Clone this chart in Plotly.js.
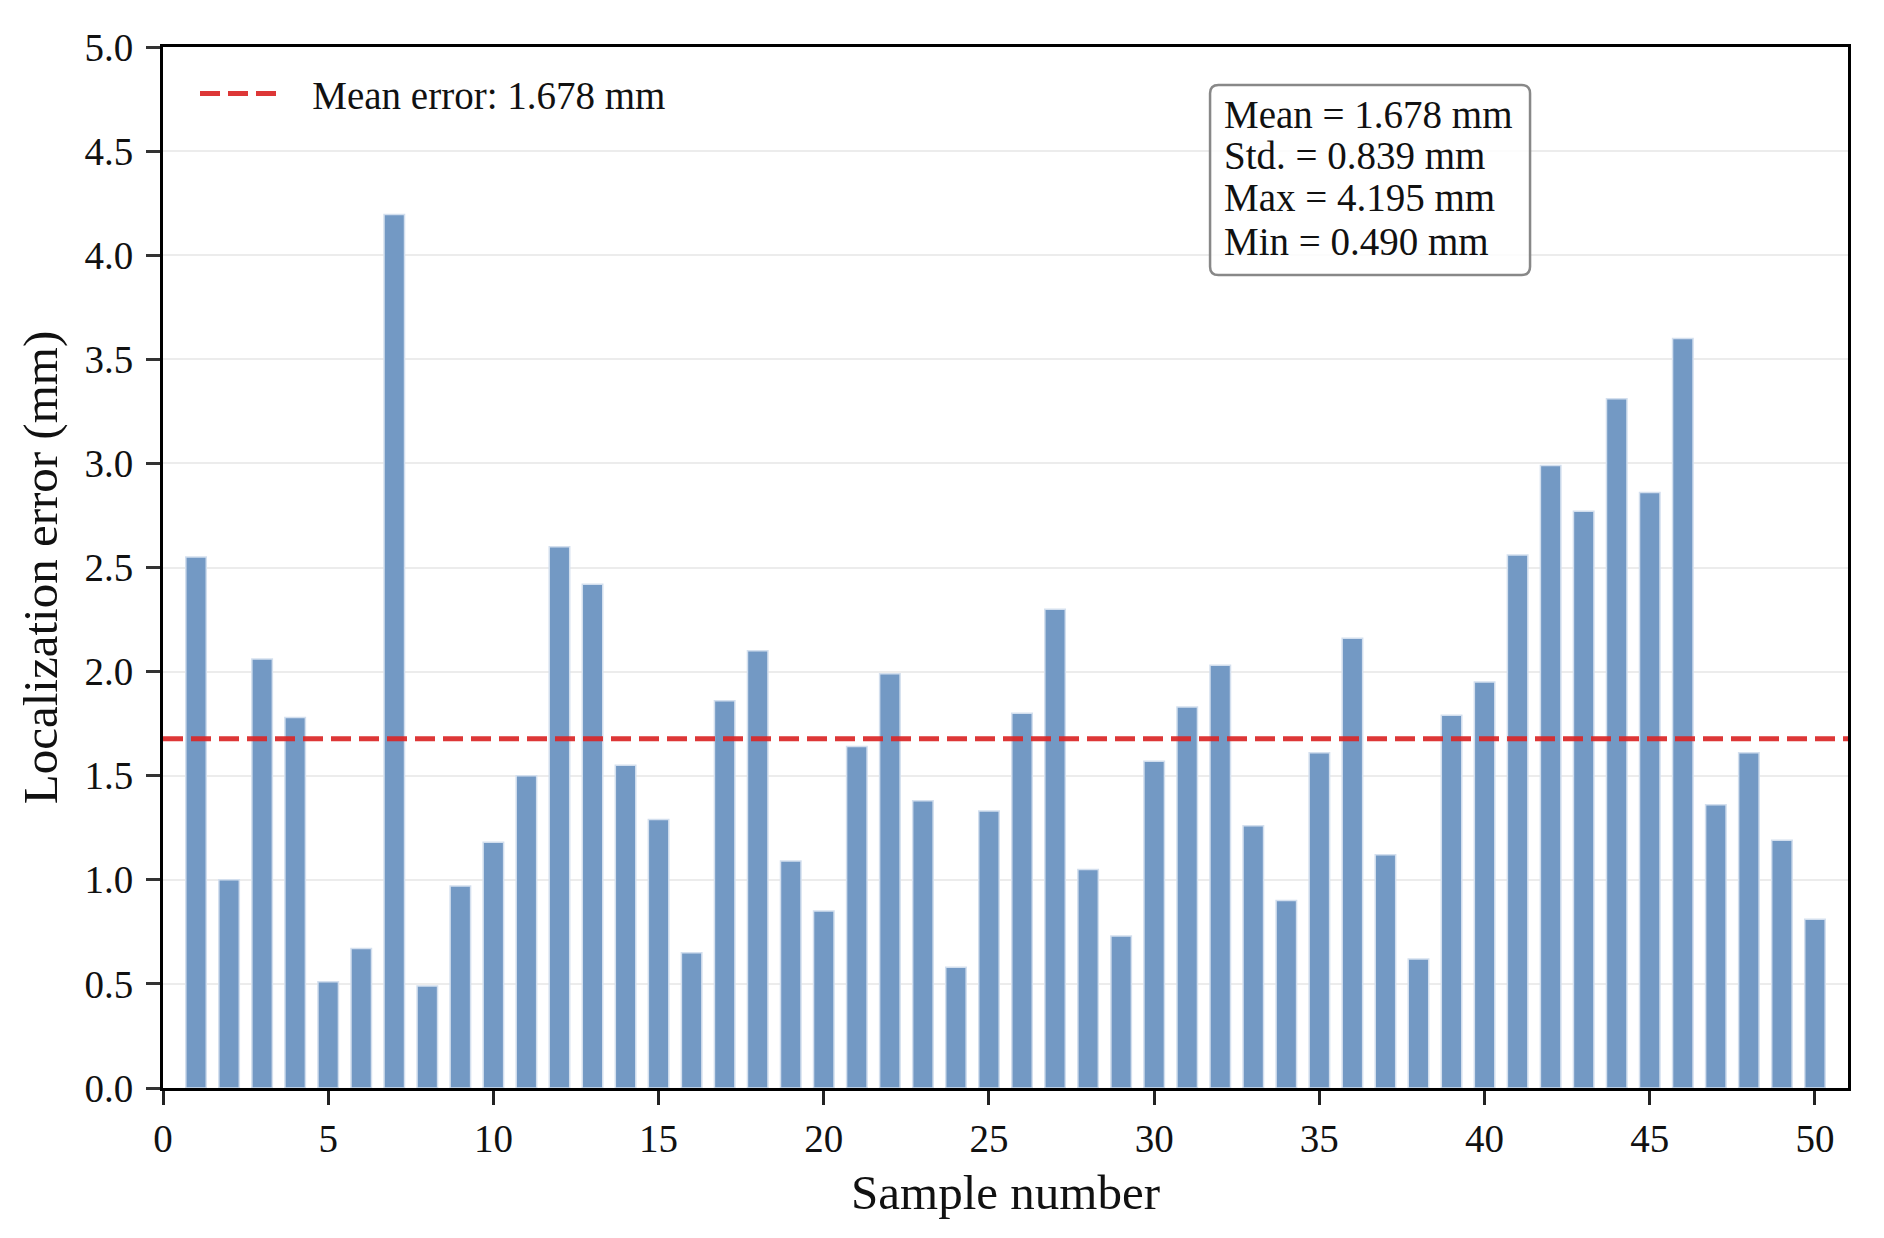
<!DOCTYPE html>
<html>
<head>
<meta charset="utf-8">
<script src="https://cdn.plot.ly/plotly-3.0.1.min.js"></script>
<style>
  body { margin: 0; background: white; }
  #chart { width: 1884px; height: 1238px; }
</style>
</head>
<body>
<div id="chart"></div>
<script>
// sample numbers and the localization error (mm)
var samples = [];
for (var i = 1; i <= 50; i++) samples.push(i);

var errors = [
    2.55, 1.00, 2.06, 1.78, 0.51, 0.67, 4.195, 0.49, 0.97, 1.18,
    1.50, 2.60, 2.42, 1.55, 1.29, 0.65, 1.86, 2.10, 1.09, 0.85,
    1.64, 1.99, 1.38, 0.58, 1.33, 1.80, 2.30, 1.05, 0.73, 1.57,
    1.83, 2.03, 1.26, 0.90, 1.61, 2.16, 1.12, 0.62, 1.79, 1.95,
    2.56, 2.99, 2.77, 3.31, 2.86, 3.60, 1.36, 1.61, 1.19, 0.81
];

var meanError = 1.678;
var statLabels = ['Mean', 'Std.', 'Max', 'Min'];
var statValues = ['1.678', '0.839', '4.195', '0.490'];

var yTicks = [0, 0.5, 1, 1.5, 2, 2.5, 3, 3.5, 4, 4.5, 5];
var xTicks = [0, 5, 10, 15, 20, 25, 30, 35, 40, 45, 50];

var serif = 'Liberation Serif, Times New Roman, serif';

var barTrace = {
    x: samples,
    y: errors,
    type: 'bar',
    width: 0.62,
    marker: {
        color: '#7399c4',
        line: { color: '#d3dfee', width: 1.5 }
    },
    showlegend: false,
    hoverinfo: 'x+y'
};

var meanTrace = {
    x: [0, 51],
    y: [meanError, meanError],
    type: 'scatter',
    mode: 'lines',
    // en + thin space gives the wider gap between sample and text
    name: '\u2002\u2009Mean error: ' + meanError.toFixed(3) + ' mm',
    line: { color: 'rgba(218,38,38,0.92)', width: 5, dash: '20px,8px' }
};

// rounded box behind the statistics text (paper coords)
function roundedBox(x0, y0, x1, y1, rx, ry) {
    return 'M' + (x0 + rx) + ',' + y1 +
        ' L' + (x1 - rx) + ',' + y1 +
        ' Q' + x1 + ',' + y1 + ' ' + x1 + ',' + (y1 - ry) +
        ' L' + x1 + ',' + (y0 + ry) +
        ' Q' + x1 + ',' + y0 + ' ' + (x1 - rx) + ',' + y0 +
        ' L' + (x0 + rx) + ',' + y0 +
        ' Q' + x0 + ',' + y0 + ' ' + x0 + ',' + (y0 + ry) +
        ' L' + x0 + ',' + (y1 - ry) +
        ' Q' + x0 + ',' + y1 + ' ' + (x0 + rx) + ',' + y1 + ' Z';
}

var annotations = [];
var lineY = [0.9356, 0.8953, 0.8550, 0.8127];
for (var k = 0; k < statLabels.length; k++) {
    annotations.push({
        xref: 'paper', yref: 'paper',
        x: 0.6285, y: lineY[k],
        xanchor: 'left', yanchor: 'middle',
        showarrow: false,
        text: statLabels[k] + ' = ' + statValues[k] + ' mm',
        font: { family: serif, size: 39, color: '#111' }
    });
}

var layout = {
    width: 1884,
    height: 1238,
    margin: { l: 163, r: 36, t: 47, b: 150 },
    paper_bgcolor: 'white',
    plot_bgcolor: 'white',
    font: { family: serif, size: 39, color: '#111' },
    xaxis: {
        range: [0, 51],
        tickvals: xTicks,
        ticks: 'outside',
        ticklen: 14,
        tickwidth: 2.5,
        tickcolor: '#222',
        showgrid: false,
        zeroline: false,
        showline: true,
        linecolor: 'black',
        linewidth: 3,
        mirror: true,
        tickfont: { family: serif, size: 39, color: '#111' },
        title: { text: 'Sample number', font: { family: serif, size: 49, color: '#111' }, standoff: 16 }
    },
    yaxis: {
        range: [0, 5],
        tickvals: yTicks,
        tickformat: '.1f',
        ticks: 'outside',
        ticklen: 14,
        tickwidth: 2.5,
        tickcolor: '#333',
        ticklabelstandoff: 5,
        showgrid: true,
        gridcolor: '#ececec',
        gridwidth: 2,
        zeroline: false,
        showline: true,
        linecolor: 'black',
        linewidth: 3,
        mirror: true,
        tickfont: { family: serif, size: 39, color: '#111' },
        title: { text: 'Localization error (mm)', font: { family: serif, size: 49, color: '#111' }, standoff: 12 }
    },
    showlegend: true,
    legend: {
        x: 0.019,
        y: 0.986,
        xanchor: 'left',
        yanchor: 'top',
        bgcolor: 'rgba(255,255,255,0)',
        itemwidth: 80,
        font: { family: serif, size: 39, color: '#111' }
    },
    shapes: [{
        type: 'path',
        xref: 'paper', yref: 'paper',
        path: roundedBox(0.6214, 0.7810, 0.8113, 0.9635, 0.005, 0.008),
        fillcolor: 'rgba(255,255,255,0.85)',
        line: { color: '#888', width: 2.5 }
    }],
    annotations: annotations
};

var config = { displayModeBar: false, responsive: false };
Plotly.newPlot(document.getElementById('chart'), [barTrace, meanTrace], layout, config);
</script>
</body>
</html>
